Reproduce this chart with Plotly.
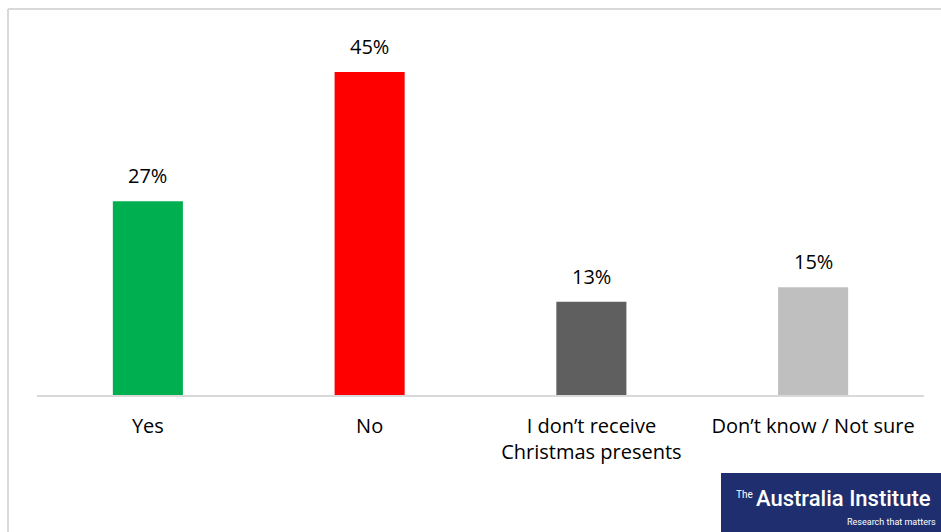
import plotly.graph_objects as go

categories = ["Yes", "No", "I don’t receive<br>Christmas presents", "Don’t know / Not sure"]
values = [27, 45, 13, 15]
labels = ["27%", "45%", "13%", "15%"]
colors = ["#00b050", "#ff0000", "#5f5f5f", "#bfbfbf"]

W, H = 941, 532
x0, x1 = 37, 924
ybase, ytop = 395, 36

fig = go.Figure()
fig.add_trace(go.Bar(x=categories, y=values, marker=dict(color=colors, line=dict(width=0)),
                     width=0.316, hoverinfo="skip"))

for c, v, t in zip(categories, values, labels):
    fig.add_annotation(x=c, y=v, text=t, showarrow=False, yanchor="bottom", yshift=10,
                       font=dict(size=20, color="#000000", family="Open Sans"))

fig.update_layout(
    width=W, height=H,
    margin=dict(l=0, r=0, t=0, b=0),
    paper_bgcolor="white", plot_bgcolor="white",
    showlegend=False,
    font=dict(family="Open Sans", size=20, color="#000000"),
    xaxis=dict(domain=[x0 / W, x1 / W], showgrid=False, showline=True, linecolor="#d9d9d9",
               linewidth=2, ticks="", ticklabelstandoff=12, tickfont=dict(size=20, color="#000000")),
    yaxis=dict(domain=[(H - ybase) / H, (H - ytop) / H], range=[0, 50], visible=False),
    shapes=[
        dict(type="line", xref="paper", yref="paper", x0=8 / W, x1=1, y0=(H - 9) / H, y1=(H - 9) / H,
             line=dict(color="#d9d9d9", width=2)),
        dict(type="line", xref="paper", yref="paper", x0=8 / W, x1=8 / W, y0=0, y1=(H - 9) / H,
             line=dict(color="#d9d9d9", width=2)),
        dict(type="rect", xref="paper", yref="paper", x0=721 / W, x1=1, y0=0, y1=(H - 473) / H,
             fillcolor="#1f2e6e", line=dict(width=0)),
    ],
)

fig.add_annotation(xref="paper", yref="paper", x=734 / W, y=(H - 494) / H, text="The",
                   showarrow=False, xanchor="left", yanchor="middle",
                   font=dict(size=10, color="white", family="Roboto"))
fig.add_annotation(xref="paper", yref="paper", x=754 / W, y=(H - 498) / H, text="Australia Institute",
                   showarrow=False, xanchor="left", yanchor="middle",
                   font=dict(size=22, color="white", family="Roboto", weight=500))
fig.add_annotation(xref="paper", yref="paper", x=845 / W, y=(H - 522) / H, text="Research that matters",
                   showarrow=False, xanchor="left", yanchor="middle",
                   font=dict(size=9, color="white", family="Roboto"))

fig.write_html("out.html", config={"displayModeBar": False},
               post_script="document.body.style.margin='0';document.body.style.overflow='hidden';")
